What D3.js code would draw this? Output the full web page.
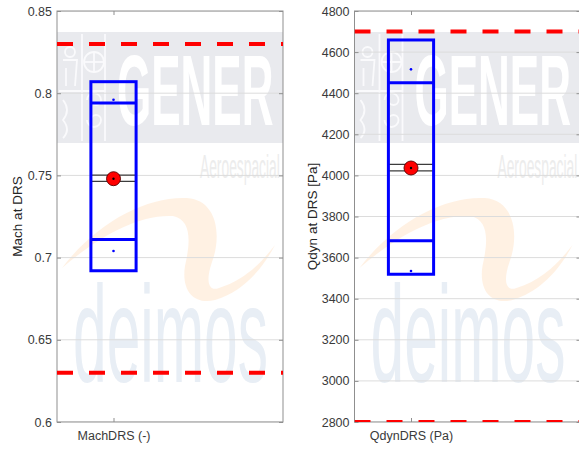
<!DOCTYPE html>
<html>
<head>
<meta charset="utf-8">
<script src="https://cdn.jsdelivr.net/npm/d3@7"></script>
<style>
  body { margin: 0; background: #fff; }
  svg { display: block; }
  text { font-family: "Liberation Sans", Arial, Helvetica, sans-serif; }
</style>
</head>
<body>
<svg id="chart" width="579" height="450"></svg>
<script>
// ---- data -------------------------------------------------------------
const categories   = ["MachDRS (-)", "QdynDRS (Pa)"];
const axisTitles   = ["Mach at DRS", "Qdyn at DRS [Pa]"];
const yDomains     = [[0.6, 0.85], [2800, 4800]];
const yTicks       = [
  [0.6, 0.65, 0.7, 0.75, 0.8, 0.85],
  [2800, 3000, 3200, 3400, 3600, 3800, 4000, 4200, 4400, 4600, 4800]
];
const yTickLabels  = [
  ["0.6", "0.65", "0.7", "0.75", "0.8", "0.85"],
  ["2800", "3000", "3200", "3400", "3600", "3800", "4000", "4200", "4400", "4600", "4800"]
];
const upperLimit   = [0.83, 4700];
const lowerLimit   = [0.63, 2800];
const outerTop     = [0.807, 4659];
const innerTop     = [0.794, 4451];
const innerBottom  = [0.711, 3682];
const outerBottom  = [0.692, 3519];
const sampleHigh   = [0.796, 4516];
const sampleLow    = [0.704, 3535];
const meanValue    = [0.748, 4036];
const meanUpper    = [0.7502, 4054];
const meanLower    = [0.7464, 4022];

// ---- layout -----------------------------------------------------------
const panelLeft  = [57, 354.5];
const titleGap   = [35, 38];
const panelWidth = 226;
const plotTop    = 11;
const plotBottom = 422;
const xDomain    = [0.5, 2.5];
const categoryPos = 1;
const boxHalf    = 0.2;

const svg = d3.select("#chart");
const defs = svg.append("defs");

// tall, narrow lettering: small font stretched vertically
function stretchedText(parent, x, y, size, sy, fill, str, bold) {
  return parent.append("text")
    .attr("transform", `translate(${x},${y}) scale(1,${sy})`)
    .attr("font-size", size).attr("font-weight", bold ? "bold" : "normal")
    .attr("fill", fill).text(str);
}

function drawWatermark(g, x0, x1) {
  const w = g.append("g").attr("transform", `translate(${x0},0)`);
  // grey banner
  w.append("rect").attr("x", 0).attr("y", 32).attr("width", x1 - x0).attr("height", 111)
    .attr("fill", "#e9eaee");
  // emblem block on the left of the banner
  const em = w.append("g").attr("stroke", "#fafafc").attr("fill", "none").attr("stroke-width", 1.8);
  em.append("line").attr("x1", 25).attr("x2", 25).attr("y1", 34).attr("y2", 141);
  em.append("line").attr("x1", 48).attr("x2", 48).attr("y1", 34).attr("y2", 141);
  em.append("line").attr("x1", 2).attr("x2", 48).attr("y1", 91).attr("y2", 91);
  em.append("circle").attr("cx", 37).attr("cy", 62).attr("r", 10);
  em.append("line").attr("x1", 37).attr("x2", 37).attr("y1", 52).attr("y2", 72);
  em.append("line").attr("x1", 27).attr("x2", 47).attr("y1", 62).attr("y2", 62);
  em.append("circle").attr("cx", 13).attr("cy", 52).attr("r", 5);
  em.append("path").attr("d", "M6,60 L20,60 L18,86 M9,68 L9,86");
  em.append("path").attr("d", "M30,100 a7,7 0 1,1 14,0 a5,5 0 1,1 -10,0 M30,120 a7,7 0 1,0 14,0 a5,5 0 1,0 -10,0");
  em.append("path").attr("d", "M6,100 q8,10 0,20 q8,10 0,18");
  stretchedText(w, 60, 125, 44, 2.29, "#ffffff", "GENER", true);
  stretchedText(w, 143, 178, 13.8, 2.4, "#ececec", "Aeroespacial", false);
  // soft orange swoosh
  w.append("path")
    .attr("d", "M5,268 C40,222 90,196 130,198 C160,200 165,235 155,262 C148,282 152,292 162,288 C188,280 205,262 218,245 C205,270 185,292 158,300 C138,305 124,292 128,266 C134,240 134,220 116,216 C80,214 40,238 5,268 Z")
    .attr("fill", "#ffe4c8").attr("opacity", 0.5);
  stretchedText(w, 16, 382, 60.5, 2.27, "#e8eef5", "deimos", false);
}

categories.forEach((cat, i) => {
  const x0 = panelLeft[i], x1 = x0 + panelWidth;
  const x = d3.scaleLinear().domain(xDomain).range([x0, x1]);
  const y = d3.scaleLinear().domain(yDomains[i]).range([plotBottom, plotTop]);
  const g = svg.append("g");

  const clipId = "clip" + i;
  defs.append("clipPath").attr("id", clipId)
    .append("rect").attr("x", x0).attr("y", plotTop).attr("width", panelWidth).attr("height", plotBottom - plotTop);

  const plot = g.append("g").attr("clip-path", `url(#${clipId})`);
  drawWatermark(plot, x0, x1);

  // horizontal grid
  plot.append("g").selectAll("line").data(yTicks[i]).join("line")
    .attr("x1", x0).attr("x2", x1)
    .attr("y1", d => y(d)).attr("y2", d => y(d))
    .attr("stroke", "#dcdcdc").attr("stroke-width", 1);

  // frame
  g.append("rect").attr("x", x0).attr("y", plotTop).attr("width", panelWidth).attr("height", plotBottom - plotTop)
    .attr("fill", "none").attr("stroke", "#8f8f8f").attr("stroke-width", 1);

  // y axis (ticks inward) and mirrored ticks on the right edge
  const yAxis = d3.axisLeft(y).tickValues(yTicks[i]).tickFormat((d, k) => yTickLabels[i][k])
    .tickSizeInner(-4).tickSizeOuter(0).tickPadding(5);
  const ay = g.append("g").attr("transform", `translate(${x0},0)`).call(yAxis);
  ay.select(".domain").remove();
  ay.selectAll(".tick line").attr("stroke", "#8f8f8f");
  ay.selectAll(".tick text").attr("font-size", 12.5).attr("fill", "#3a3a3a")
    .attr("font-family", "'Liberation Sans', Arial, sans-serif");
  const ayR = g.append("g").attr("transform", `translate(${x1},0)`)
    .call(d3.axisRight(y).tickValues(yTicks[i]).tickSizeInner(-4).tickSizeOuter(0).tickFormat(""));
  ayR.select(".domain").remove();
  ayR.selectAll(".tick line").attr("stroke", "#8f8f8f");

  // x axis with a single category tick
  const xAxis = d3.axisBottom(x).tickValues([categoryPos]).tickFormat(() => cat)
    .tickSizeInner(-4).tickSizeOuter(0).tickPadding(9);
  const ax = g.append("g").attr("transform", `translate(0,${plotBottom})`).call(xAxis);
  ax.select(".domain").remove();
  ax.selectAll(".tick line").attr("stroke", "#8f8f8f");
  ax.selectAll(".tick text").attr("font-size", 12.5).attr("fill", "#3a3a3a")
    .attr("font-family", "'Liberation Sans', Arial, sans-serif");
  const axT = g.append("g").attr("transform", `translate(0,${plotTop})`)
    .call(d3.axisTop(x).tickValues([categoryPos]).tickSizeInner(-4).tickSizeOuter(0).tickFormat(""));
  axT.select(".domain").remove();
  axT.selectAll(".tick line").attr("stroke", "#8f8f8f");

  // y axis title
  g.append("text")
    .attr("transform", `translate(${x0 - titleGap[i]},${(plotTop + plotBottom) / 2}) rotate(-90)`)
    .attr("text-anchor", "middle").attr("font-size", 13.5).attr("fill", "#262626")
    .text(axisTitles[i]);

  // limit lines
  const lim = g.append("g").attr("clip-path", `url(#${clipId})`);
  [upperLimit[i], lowerLimit[i]].forEach(v => {
    lim.append("line").attr("x1", x0).attr("x2", x1 + 4)
      .attr("y1", y(v)).attr("y2", y(v))
      .attr("stroke", "#ff0000").attr("stroke-width", 4).attr("stroke-dasharray", "16,16");
  });

  const bx0 = x(categoryPos - boxHalf), bx1 = x(categoryPos + boxHalf), cx = x(categoryPos);

  // mean band lines
  [meanUpper[i], meanLower[i]].forEach(v => {
    g.append("line").attr("x1", bx0).attr("x2", bx1).attr("y1", y(v)).attr("y2", y(v))
      .attr("stroke", "#3c3c3c").attr("stroke-width", 1.2);
  });

  // outer and inner boxes
  const blue = "#0000ff";
  g.append("rect").attr("x", bx0).attr("y", y(outerTop[i]))
    .attr("width", bx1 - bx0).attr("height", y(outerBottom[i]) - y(outerTop[i]))
    .attr("fill", "none").attr("stroke", blue).attr("stroke-width", 3);
  [innerTop[i], innerBottom[i]].forEach(v => {
    g.append("line").attr("x1", bx0).attr("x2", bx1).attr("y1", y(v)).attr("y2", y(v))
      .attr("stroke", blue).attr("stroke-width", 3);
  });

  // extreme samples
  [sampleHigh[i], sampleLow[i]].forEach(v => {
    g.append("circle").attr("cx", cx).attr("cy", y(v)).attr("r", 1.3).attr("fill", blue);
  });

  // mean marker
  g.append("circle").attr("cx", cx).attr("cy", y(meanValue[i])).attr("r", 7)
    .attr("fill", "#ff0000").attr("stroke", "#5a0000").attr("stroke-width", 0.9);
  g.append("circle").attr("cx", cx).attr("cy", y(meanValue[i])).attr("r", 1.2).attr("fill", "#000");
});
</script>
</body>
</html>
